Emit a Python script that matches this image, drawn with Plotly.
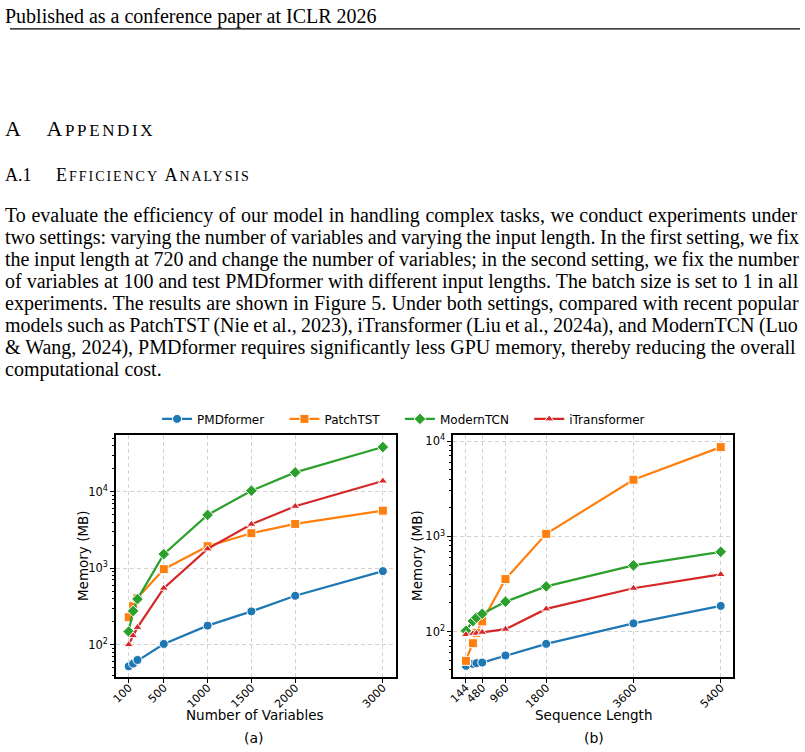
import plotly.graph_objects as go

W, H = 805, 752

# ---------------- data ----------------
series_names = ["PMDformer", "PatchTST", "ModernTCN", "iTransformer"]
colors = ["#1f77b4", "#ff7f0e", "#2ca02c", "#d62728"]
symbols = ["circle", "square", "diamond", "triangle-up"]

num_vars = [100, 150, 200, 500, 1000, 1500, 2000, 3000]
mem_vars_pmd = [52, 56.5, 63, 102, 177, 272, 435, 914]
mem_vars_patch = [228, 319, 406, 970, 1936, 2864, 3785, 5650]
mem_vars_modern = [148, 275, 394, 1524, 4966, 10300, 17870, 38300]
mem_vars_itrans = [100, 131, 168, 548, 1786, 3750, 6440, 13770]

seq_len = [144, 288, 360, 480, 960, 1800, 3600, 5400]
mem_seq_pmd = [43.7, 45.8, 46.6, 47.3, 56.1, 74.3, 122, 186]
mem_seq_patch = [49.3, 75.5, 97, 128, 356, 1062, 3935, 8650]
mem_seq_modern = [102, 129, 140, 154, 206, 298, 495, 688]
mem_seq_itrans = [93, 95, 96, 98.4, 106, 173, 285, 398]

vars_ticks = [100, 500, 1000, 1500, 2000, 3000]
seq_ticks = [144, 480, 960, 1800, 3600, 5400]
y_tickvals = [100, 1000, 10000]
y_ticktext = ["10<sup>2</sup>", "10<sup>3</sup>", "10<sup>4</sup>"]

header = "Published as a conference paper at ICLR 2026"
paragraph_lines = [
    "To evaluate the efficiency of our model in handling complex tasks, we conduct experiments under",
    "two settings: varying the number of variables and varying the input length. In the first setting, we fix",
    "the input length at 720 and change the number of variables; in the second setting, we fix the number",
    "of variables at 100 and test PMDformer with different input lengths. The batch size is set to 1 in all",
    "experiments. The results are shown in Figure 5. Under both settings, compared with recent popular",
    "models such as PatchTST (Nie et al., 2023), iTransformer (Liu et al., 2024a), and ModernTCN (Luo",
    "& Wang, 2024), PMDformer requires significantly less GPU memory, thereby reducing the overall",
    "computational cost.",
]

left_data = [mem_vars_pmd, mem_vars_patch, mem_vars_modern, mem_vars_itrans]
right_data = [mem_seq_pmd, mem_seq_patch, mem_seq_modern, mem_seq_itrans]

# ---------------- text metrics (Times-Roman advance widths, per 1000 em) ----------------
_TW = {' ': 250, '!': 333, '&': 778, '(': 333, ')': 333, ',': 250, '-': 333, '.': 250,
       ':': 278, ';': 278, '?': 444}
for ch in "0123456789":
    _TW[ch] = 500
_TW.update(dict(zip("ABCDEFGHIJKLMNOPQRSTUVWXYZ",
                    [722, 667, 667, 722, 611, 556, 722, 722, 333, 389, 722, 611, 889, 722, 722,
                     556, 722, 667, 556, 611, 722, 722, 944, 722, 722, 611])))
_TW.update(dict(zip("abcdefghijklmnopqrstuvwxyz",
                    [444, 500, 444, 500, 444, 333, 500, 500, 278, 278, 500, 278, 778, 500, 500,
                     500, 500, 333, 389, 278, 500, 500, 722, 500, 500, 444])))

def text_width(s, size):
    return sum(_TW.get(c, 500) for c in s) * size / 1000.0

# ---------------- figure ----------------
CF = "DejaVu Sans"
SF = "Liberation Serif"
BODY = 20
TEXT_W = 794
LEG_PAD = "&nbsp;" * 4

def px_x(p):
    return p / W

def px_y(p):
    return 1 - p / H

fig = go.Figure()
for i, name in enumerate(series_names):
    fig.add_trace(go.Scatter(
        x=num_vars, y=left_data[i], name=name + LEG_PAD, mode="lines+markers",
        line=dict(color=colors[i], width=2.2),
        marker=dict(symbol=symbols[i], size=9 if symbols[i] != "triangle-up" else 8,
                    color=colors[i], line=dict(color="white", width=1)),
        xaxis="x", yaxis="y", showlegend=True, legendgroup=name))
for i, name in enumerate(series_names):
    fig.add_trace(go.Scatter(
        x=seq_len, y=right_data[i], name=name, mode="lines+markers",
        line=dict(color=colors[i], width=2.2),
        marker=dict(symbol=symbols[i], size=9 if symbols[i] != "triangle-up" else 8,
                    color=colors[i], line=dict(color="white", width=1)),
        xaxis="x2", yaxis="y2", showlegend=False, legendgroup=name))

common_x = dict(
    showline=True, linecolor="black", linewidth=1.6, mirror=True,
    ticks="outside", ticklen=4, tickwidth=1, tickcolor="black",
    tickangle=-45, tickfont=dict(family=CF, size=11, color="black"),
    ticklabelstandoff=-6,
    showgrid=True, gridcolor="#d3d3d3", griddash="4px,3px", gridwidth=1,
    zeroline=False,
)
common_y = dict(
    type="log", showline=True, linecolor="black", linewidth=1.6, mirror=True,
    ticks="outside", ticklen=4, tickwidth=1, tickcolor="black",
    tickvals=y_tickvals, ticktext=y_ticktext,
    tickfont=dict(family=CF, size=11.5, color="black"),
    showgrid=True, gridcolor="#d3d3d3", griddash="4px,3px", gridwidth=1,
    minor=dict(ticks="outside", ticklen=2, tickcolor="black", showgrid=False, dtick="D1"),
    zeroline=False,
)

fig.update_layout(
    width=W, height=H,
    margin=dict(l=0, r=0, t=0, b=0),
    paper_bgcolor="white", plot_bgcolor="white",
    xaxis=dict(common_x, domain=[px_x(111.7), px_x(393)], range=[-45, 3145],
               tickvals=vars_ticks, anchor="y"),
    yaxis=dict(common_y, domain=[px_y(677), px_y(434)], range=[1.574, 4.743], anchor="x"),
    xaxis2=dict(common_x, domain=[px_x(451), px_x(733)], range=[-118.8, 5662.8],
                tickvals=seq_ticks, anchor="y2"),
    yaxis2=dict(common_y, domain=[px_y(677), px_y(434)], range=[1.521, 4.066], anchor="x2"),
    legend=dict(orientation="h", x=px_x(153), xanchor="left", y=px_y(418), yanchor="middle",
                font=dict(family=CF, size=12, color="black"),
                bgcolor="rgba(0,0,0,0)", itemwidth=30, tracegroupgap=0),
)

def ann(text, x, y, size, family=SF, xanchor="left", angle=0):
    return dict(text=text, x=px_x(x), y=px_y(y), xref="paper", yref="paper",
                xanchor=xanchor, yanchor="middle", showarrow=False, textangle=angle,
                font=dict(family=family, size=size, color="black"))

annotations = []
annotations.append(ann(header, -2, 15, BODY))
annotations.append(ann('A&#8195;&#8198;<span style="letter-spacing:2.6px">A<span style="font-size:17px">PPENDIX</span></span>',
                       -2, 127, 22))
annotations.append(ann('A.1&#8195;&#8201;&#8198;<span style="letter-spacing:1.95px">E<span style="font-size:14px">FFICIENCY</span> '
                       'A<span style="font-size:14px">NALYSIS</span></span>', -2, 173, 18))
for k, line in enumerate(paragraph_lines):
    if k < len(paragraph_lines) - 1:
        nsp = line.count(" ")
        ws = (TEXT_W - text_width(line, BODY)) / nsp
        txt = '<span style="word-spacing:%.2fpx">%s</span>' % (ws, line.replace("&", "&amp;"))
    else:
        txt = line
    annotations.append(ann(txt, -2, 214 + 22 * k, BODY))
annotations.append(ann("Memory (MB)", 78, 555, 13.5, CF, "center", -90))
annotations.append(ann("Memory (MB)", 414, 555, 13.5, CF, "center", -90))
annotations.append(ann("Number of Variables", 252, 715, 13.5, CF, "center"))
annotations.append(ann("Sequence Length", 592, 715, 13.5, CF, "center"))
annotations.append(ann("(a)", 251, 738, 14, CF, "center"))
annotations.append(ann("(b)", 593, 738, 14, CF, "center"))
fig.update_layout(annotations=annotations)

fig.add_shape(type="line", xref="paper", yref="paper", x0=px_x(5), x1=px_x(800),
              y0=px_y(27), y1=px_y(27), line=dict(color="black", width=1.2))

fig.write_html("out.html")
